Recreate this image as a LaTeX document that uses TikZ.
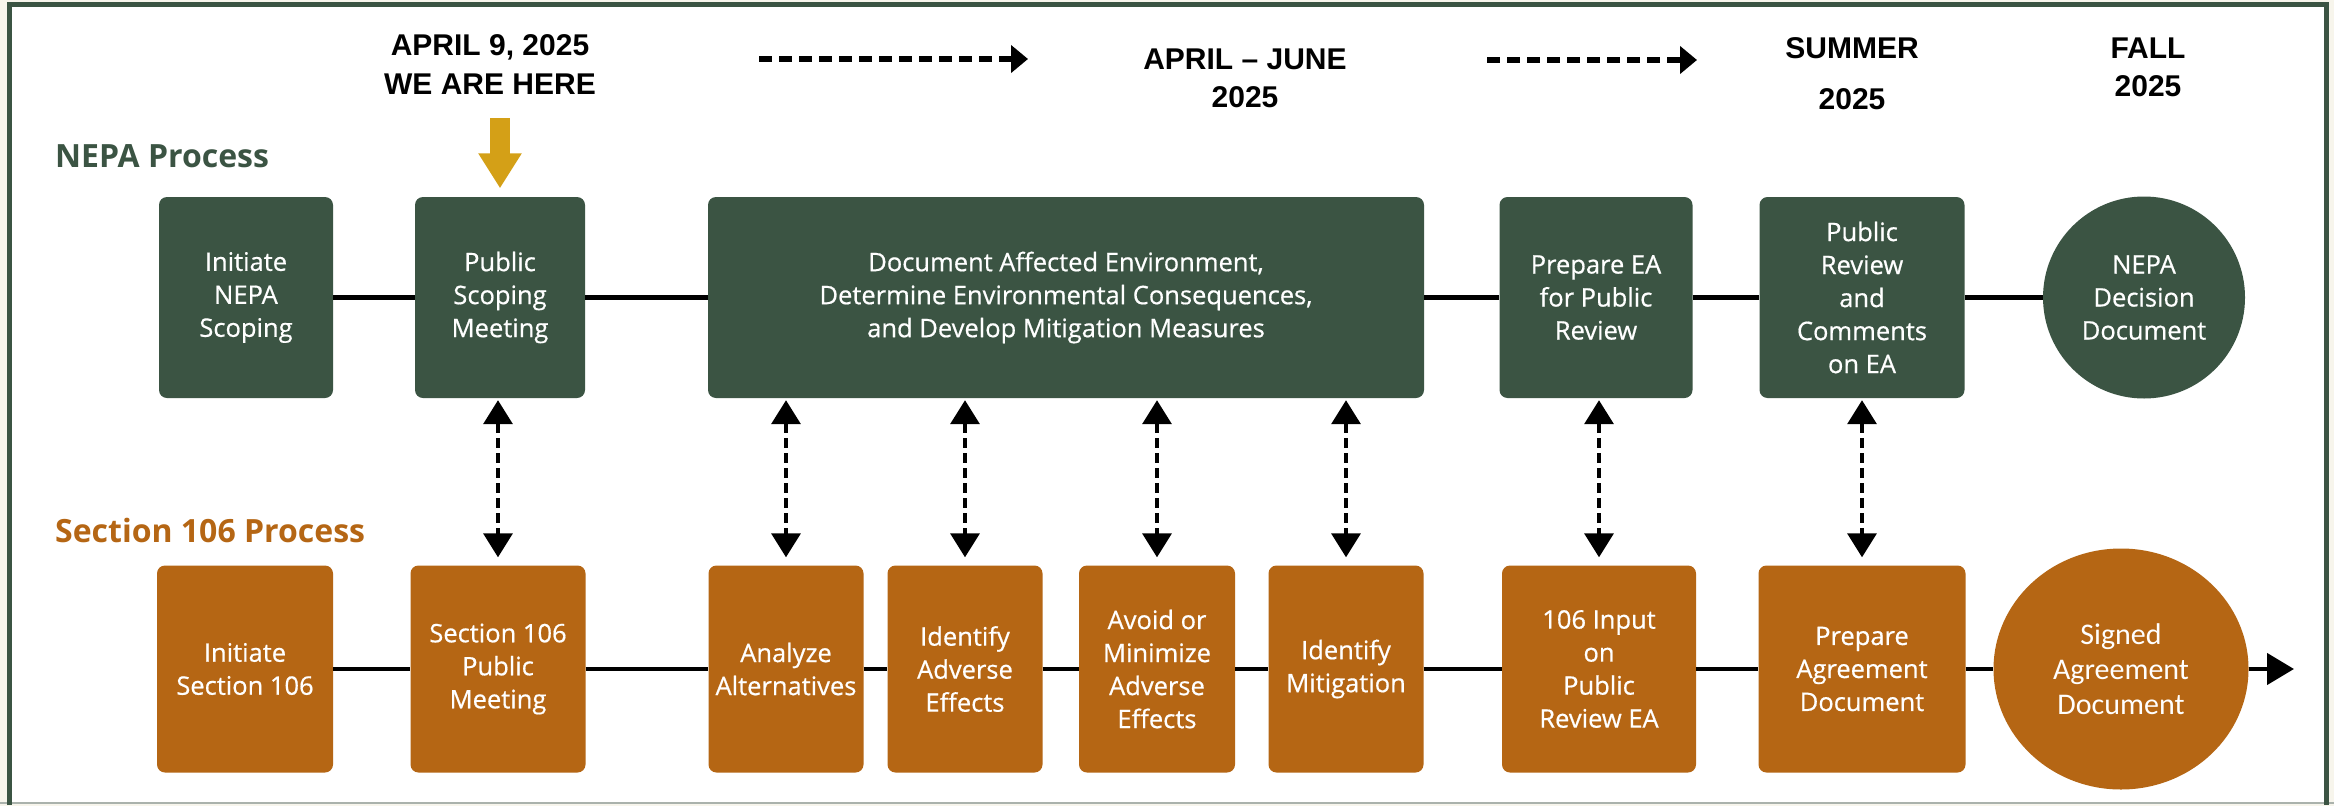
\documentclass[tikz,border=0pt]{standalone}
\usepackage{fontspec}
\setmainfont{Open Sans}
\newfontfamily\boxfont[FakeBold=0.6]{Open Sans}
\newfontfamily\datefont{Liberation Sans}
\newfontfamily\signfont{Carlito}
\usepackage{tikz}
\usetikzlibrary{arrows.meta}
\usetikzlibrary{shapes.geometric}

\definecolor{nepagreen}{RGB}{59,84,67}
\definecolor{secorange}{RGB}{181,102,20}
\definecolor{heregold}{RGB}{212,160,23}
\definecolor{pagebeige}{RGB}{247,245,236}
\definecolor{framegray}{RGB}{170,178,172}

\begin{document}
\begin{tikzpicture}[x=1pt, y=-1pt,
    nepabox/.style={rectangle, rounded corners=8pt, fill=nepagreen, text=white, align=center, inner sep=0pt, minimum height=201pt, font=\boxfont\fontsize{25.5}{33}\selectfont},
    secbox/.style={rectangle, rounded corners=8pt, fill=secorange, text=white, align=center, inner sep=0pt, minimum height=207pt, font=\boxfont\fontsize{25.5}{33}\selectfont},
    datelabel/.style={align=center, inner sep=0pt, font=\datefont\bfseries\fontsize{30}{38}\selectfont},
    proctitle/.style={anchor=base west, inner sep=0pt, font=\bfseries\fontsize{32}{38}\selectfont},
    procline/.style={line width=4.5pt},
    link/.style={line width=3.5pt, dash pattern=on 10pt off 5pt, {Triangle[length=24pt,width=29pt]}-{Triangle[length=24pt,width=29pt]}, shorten <=2pt, shorten >=8pt},
    timearrow/.style={line width=5.5pt, dash pattern=on 13pt off 7pt, -{Triangle[length=17pt,width=27pt]}}]

\useasboundingbox (0,0) rectangle (2334,806);

% Frame
\fill[pagebeige] (0,0) rectangle (2334,806);
\fill[white] (9,4) rectangle (2326,803);
\draw[framegray, line width=2pt] (0,803) -- (2334,803);
\draw[nepagreen, line width=5pt] (9,805) -- (9,4) -- (2326,4) -- (2326,805);

% Timeline labels
\node[datelabel] (here) at (490,65) {APRIL 9, 2025\\[1pt]WE ARE HERE};
\node[datelabel] (spring) at (1245,78) {APRIL – JUNE\\2025};
\node[datelabel] (summer) at (1852,74) {SUMMER\\[13pt]2025};
\node[datelabel] (fall) at (2148,67) {FALL\\2025};

\coordinate (t1s) at (759,59);
\coordinate (t1e) at (1028,59);
\coordinate (t2s) at (1487,60);
\coordinate (t2e) at (1697,60);
\draw[timearrow] (t1s) -- (t1e);
\draw[timearrow] (t2s) -- (t2e);

% Process titles
\node[proctitle, text=nepagreen] (nepatitle) at (55,167) {NEPA Process};
\node[proctitle, text=secorange] (sectitle) at (55,542) {Section 106 Process};

% NEPA steps
\node[nepabox, minimum width=174pt] (ini) at (246,297.5) {Initiate\\NEPA\\Scoping};
\node[nepabox, minimum width=170pt] (pub) at (500,297.5) {Public\\Scoping\\Meeting};
\node[nepabox, minimum width=716pt] (doc) at (1066,297.5) {Document Affected Environment,\\Determine Environmental Consequences,\\and Develop Mitigation Measures};
\node[nepabox, minimum width=193pt] (prep) at (1596,297.5) {Prepare EA\\for Public\\Review};
\node[nepabox, minimum width=205pt] (rev) at (1862,297.5) {Public\\Review\\and\\Comments\\on EA};
\node[circle, fill=nepagreen, text=white, align=center, inner sep=0pt, minimum size=202pt, font=\boxfont\fontsize{25.5}{33}\selectfont] (dec) at (2144,297.5) {NEPA\\Decision\\Document};

% Section 106 steps
\node[secbox, minimum width=176pt] (sini) at (245,669) {Initiate\\Section 106};
\node[secbox, minimum width=175pt] (smeet) at (498,669) {Section 106\\Public\\Meeting};
\node[secbox, minimum width=155pt] (alt) at (786,669) {Analyze\\Alternatives};
\node[secbox, minimum width=155pt] (adv) at (965,669) {Identify\\Adverse\\Effects};
\node[secbox, minimum width=156pt] (avoid) at (1157,669) {Avoid or\\Minimize\\Adverse\\Effects};
\node[secbox, minimum width=155pt] (mit) at (1346,669) {Identify\\Mitigation};
\node[secbox, minimum width=194pt] (input) at (1599,669) {106 Input\\on\\Public\\Review EA};
\node[secbox, minimum width=207pt] (agree) at (1862,669) {Prepare\\Agreement\\Document};
\node[ellipse, fill=secorange, text=white, align=center, inner sep=0pt, minimum width=255pt, minimum height=241pt, font=\signfont\fontsize{30}{35}\selectfont] (sign) at (2121,669) {Signed\\Agreement\\Document};
\coordinate (out) at (2294,669);

% Process lines
\draw[procline] (ini) -- (pub) -- (doc) -- (prep) -- (rev) -- (dec);
\draw[procline] (sini) -- (smeet) -- (alt) -- (adv) -- (avoid) -- (mit) -- (input) -- (agree) -- (sign);
\draw[procline, -{Triangle[length=27pt,width=31pt]}] (sign) -- (out);

% We are here
\coordinate (herearrow) at (500,118);
\draw[heregold, line width=20pt, -{Triangle[length=35pt,width=41pt]}, shorten >=8.5pt] (herearrow) -- (pub.north);

% Links between the processes
\foreach \t/\b in {pub/smeet, doc/alt, doc/adv, doc/avoid, doc/mit, prep/input, rev/agree} {
    \draw[link] (\b.north |- \t.south) -- (\b.north);
}

\end{tikzpicture}
\end{document}
